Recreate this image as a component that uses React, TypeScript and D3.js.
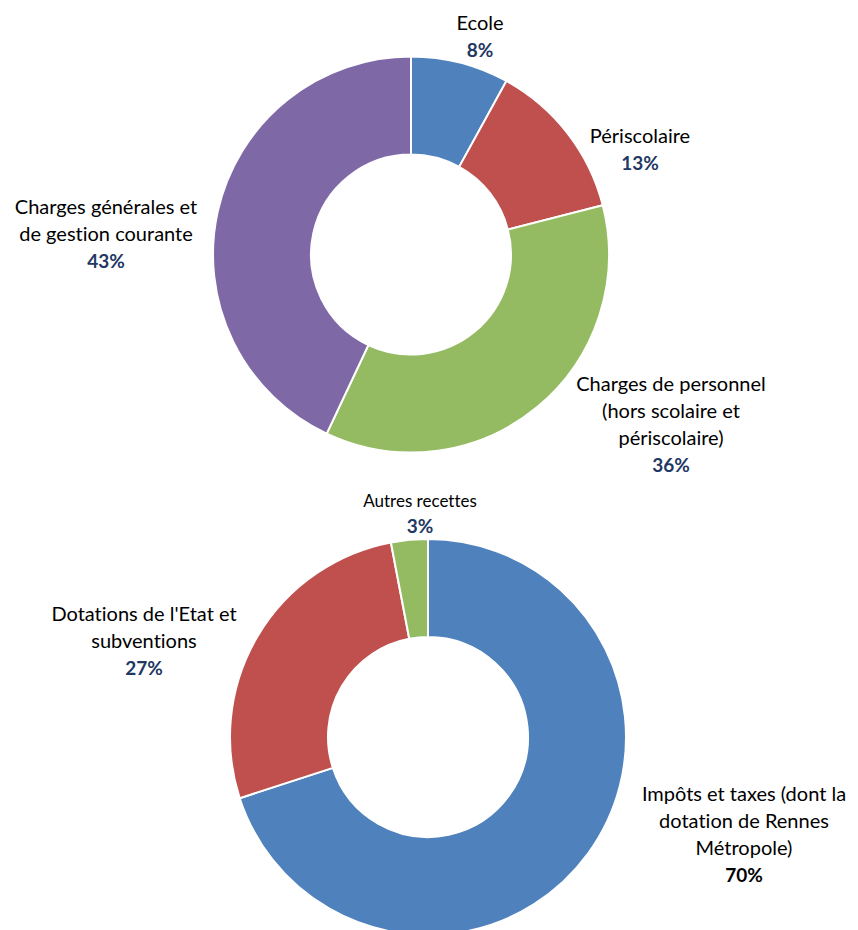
import * as React from 'react';
import * as d3 from 'd3';

// dépenses (top donut)
const depensesLabels = [
  ['Ecole'],
  ['Périscolaire'],
  ['Charges de personnel', '(hors scolaire et', 'périscolaire)'],
  ['Charges générales et', 'de gestion courante'],
];
const depensesValues = [8, 13, 36, 43];
const depensesPct = ['8%', '13%', '36%', '43%'];

// recettes (bottom donut)
const recettesLabels = [
  ['Impôts et taxes (dont la', 'dotation de Rennes', 'Métropole)'],
  ['Dotations de l\'Etat et', 'subventions'],
  ['Autres recettes'],
];
const recettesValues = [70, 27, 3];
const recettesPct = ['70%', '27%', '3%'];

const depensesColors = ['#4F81BD', '#C0504D', '#95BB62', '#7F68A6'];
const recettesColors = ['#4F81BD', '#C0504D', '#95BB62'];

type LabelPos = { x: number; y: number; size: number; pctColor: string };

const Donut: React.FC<{
  cx: number;
  cy: number;
  values: number[];
  colors: string[];
  labels: string[][];
  pcts: string[];
  labelPos: LabelPos[];
}> = ({ cx, cy, values, colors, labels, pcts, labelPos }) => {
  const outer = 198;
  const inner = 100;
  const pie = d3.pie<number>().sort(null).value((d) => d);
  const arc = d3.arc<d3.PieArcDatum<number>>().innerRadius(inner).outerRadius(outer);
  const arcs = pie(values);
  const lineH = 27;

  return (
    <g>
      <g transform={`translate(${cx},${cy})`}>
        {arcs.map((a, i) => (
          <path key={i} d={arc(a) || ''} fill={colors[i]} stroke="#fff" strokeWidth={2} />
        ))}
      </g>
      {labelPos.map((p, i) => (
        <text
          key={i}
          textAnchor="middle"
          fontFamily="Lato, sans-serif"
          style={{ fontVariantLigatures: 'none' }}
        >
          {labels[i].map((line, j) => (
            <tspan key={j} x={p.x} y={p.y + j * lineH} fontSize={p.size} fill="#000">
              {line}
            </tspan>
          ))}
          <tspan
            x={p.x}
            y={p.y + (labels[i].length === 1 && p.size < 19 ? 26 : labels[i].length * lineH)}
            fontSize={19}
            fontWeight="bold"
            fill={p.pctColor}
          >
            {pcts[i]}
          </tspan>
        </text>
      ))}
    </g>
  );
};

export default function App() {
  const navy = '#1F3864';
  const topPos: LabelPos[] = [
    { x: 480, y: 30, size: 20, pctColor: navy },
    { x: 640, y: 143, size: 20, pctColor: navy },
    { x: 671, y: 391, size: 20, pctColor: navy },
    { x: 106, y: 214, size: 20, pctColor: navy },
  ];
  const bottomPos: LabelPos[] = [
    { x: 744, y: 801, size: 20, pctColor: '#000' },
    { x: 144, y: 621, size: 20, pctColor: navy },
    { x: 420, y: 507, size: 17, pctColor: navy },
  ];

  return (
    <svg
      width={858}
      height={930}
      style={{ position: 'absolute', left: 0, top: 0, background: '#fff' }}
    >
      <Donut
        cx={411}
        cy={254.5}
        values={depensesValues}
        colors={depensesColors}
        labels={depensesLabels}
        pcts={depensesPct}
        labelPos={topPos}
      />
      <Donut
        cx={428}
        cy={737}
        values={recettesValues}
        colors={recettesColors}
        labels={recettesLabels}
        pcts={recettesPct}
        labelPos={bottomPos}
      />
    </svg>
  );
}
